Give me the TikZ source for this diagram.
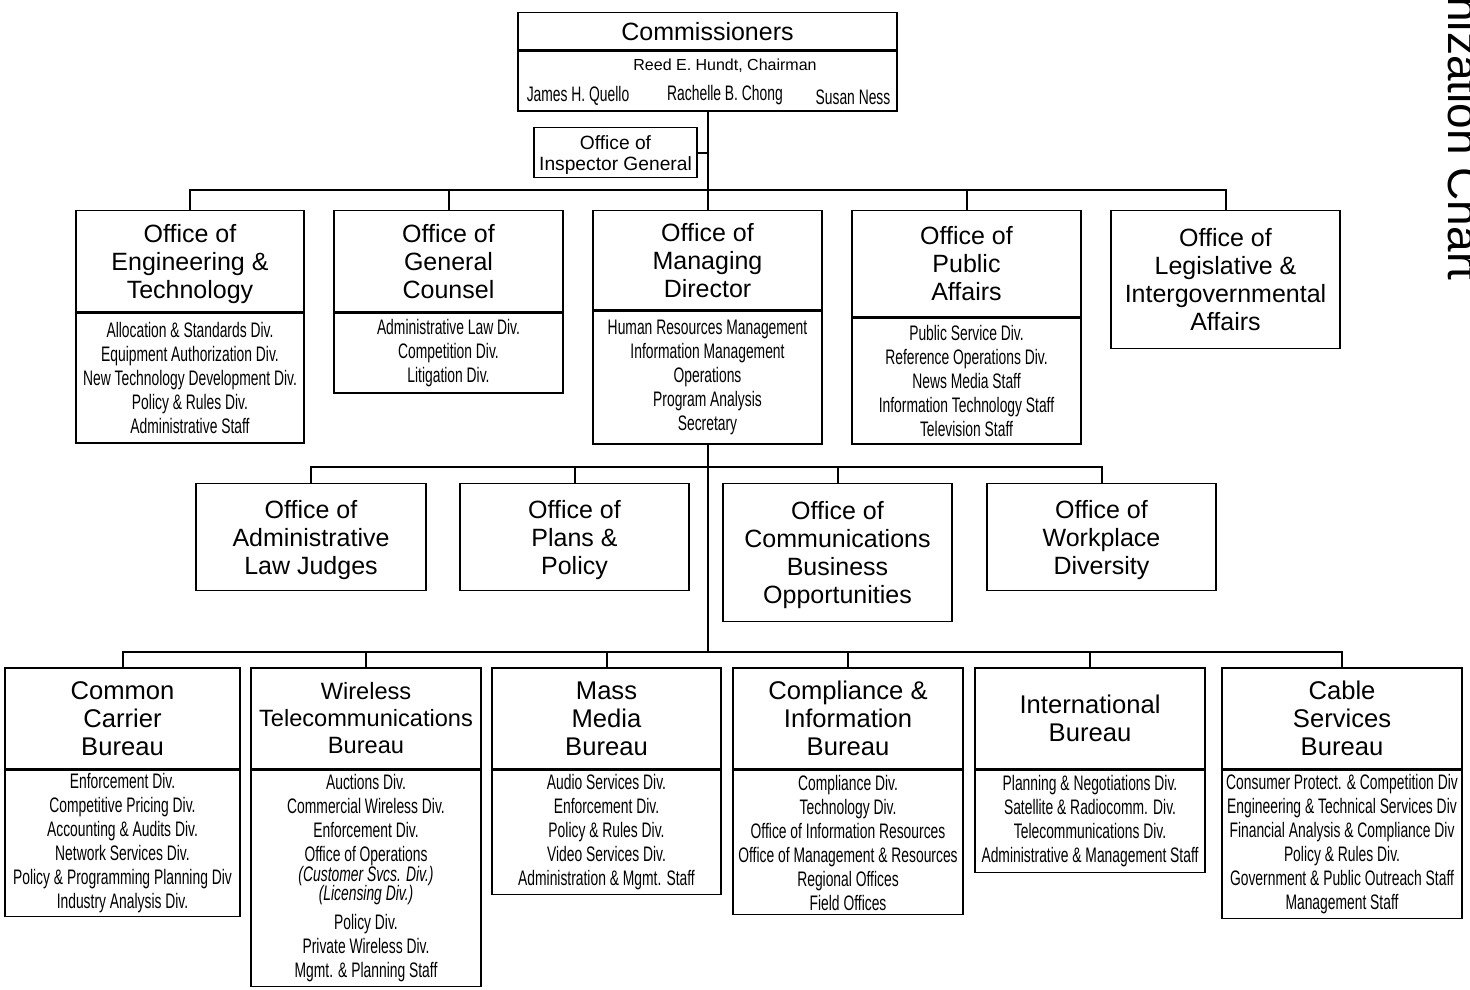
\documentclass[tikz,border=0pt]{standalone}
\usepackage{fontspec}
\setmainfont{Liberation Sans}
\newfontfamily\narrowfont[FakeStretch=0.66]{Liberation Sans}
\usetikzlibrary{positioning}
\newcommand{\officefont}{\fontsize{12.5}{14}\selectfont}
\newcommand{\bureaufont}{\fontsize{12.8}{14}\selectfont}
\newcommand{\unitfont}{\narrowfont\fontsize{10.5}{12}\selectfont}

\begin{document}
\begin{tikzpicture}[
    x=0.5pt, y=-0.5pt,
    office/.style={draw, line width=0.7pt, anchor=north, align=center, inner sep=0pt, text depth=0pt, font=\officefont},
    bureau/.style={office, line width=0.9pt, font=\bureaufont, minimum height=50.5pt},
    units/.style={draw, line width=0.7pt, anchor=north, align=center, inner sep=0pt, font=\unitfont},
    bus/.style={line width=1pt}
]
    \useasboundingbox (0,0) rectangle (1470,989);

    % commissioners
    \node[office, minimum width=189.5pt, minimum height=18.5pt] (com) at (707.5,12) {Commissioners};
    \node[units, minimum width=189.5pt, minimum height=30pt, below=0pt of com] (com-names) {};
    \node[inner sep=0pt, font=\fontsize{8}{10}\selectfont] (chair) at (725,66) {Reed E. Hundt, Chairman};
    \node[inner sep=0pt, font=\unitfont] (quello) at (578,96) {James H. Quello};
    \node[inner sep=0pt, font=\unitfont] (chong) at (725,95) {Rachelle B. Chong};
    \node[inner sep=0pt, font=\unitfont] (ness) at (853,97) {Susan Ness};

    \node[office, font=\fontsize{9.6}{10.5}\selectfont, minimum width=81.5pt, minimum height=25pt] (oig) at (615.5,127) {Office of\\Inspector General};

    % first row of offices
    \node[office, minimum width=114pt, minimum height=50.5pt] (oet) at (190,210) {Office of\\Engineering \&\\Technology};
    \node[units, minimum width=114pt, minimum height=65pt, below=0pt of oet] (oet-div) {Allocation \& Standards Div.\\Equipment Authorization Div.\\New Technology Development Div.\\Policy \& Rules Div.\\Administrative Staff};

    \node[office, minimum width=114.5pt, minimum height=50.5pt] (ogc) at (448.5,210) {Office of\\General\\Counsel};
    \node[units, minimum width=114.5pt, minimum height=40pt, below=0pt of ogc] (ogc-div) {Administrative Law Div.\\Competition Div.\\Litigation Div.};

    \node[office, minimum width=114.5pt, minimum height=49.5pt] (omd) at (707.5,210) {Office of\\Managing\\Director};
    \node[units, minimum width=114.5pt, minimum height=66.5pt, below=0pt of omd] (omd-div) {Human Resources Management\\Information Management\\Operations\\Program Analysis\\Secretary};

    \node[office, minimum width=114.5pt, minimum height=53pt] (opa) at (966.5,210) {Office of\\Public\\Affairs};
    \node[units, minimum width=114.5pt, minimum height=63pt, below=0pt of opa] (opa-div) {Public Service Div.\\Reference Operations Div.\\News Media Staff\\Information Technology Staff\\Television Staff};

    \node[office, minimum width=114.5pt, minimum height=69pt] (olia) at (1225.5,210) {Office of\\Legislative \&\\Intergovernmental\\Affairs};

    % second row of offices
    \node[office, minimum width=115pt, minimum height=53.5pt] (oalj) at (311,483) {Office of\\Administrative\\Law Judges};
    \node[office, minimum width=114.5pt, minimum height=53.5pt] (opp) at (574.5,483) {Office of\\Plans \&\\Policy};
    \node[office, minimum width=114.5pt, minimum height=69pt] (ocbo) at (837.5,483) {Office of\\Communications\\Business\\Opportunities};
    \node[office, minimum width=114.5pt, minimum height=53.5pt] (owd) at (1101.5,483) {Office of\\Workplace\\Diversity};

    % bureaus
    \node[bureau, minimum width=117.5pt] (ccb) at (122.5,667) {Common\\Carrier\\Bureau};
    \node[units, minimum width=117.5pt, minimum height=73pt, below=0pt of ccb] (ccb-div) {Enforcement Div.\\Competitive Pricing Div.\\Accounting \& Audits Div.\\Network Services Div.\\Policy \& Programming Planning Div\\Industry Analysis Div.};

    \node[bureau, font=\fontsize{11.8}{13.5}\selectfont, minimum width=115pt] (wtb) at (366,667) {Wireless\\Telecommunications\\Bureau};
    \node[units, minimum width=115pt, minimum height=108pt, below=0pt of wtb] (wtb-div) {Auctions Div.\\Commercial Wireless Div.\\Enforcement Div.\\Office of Operations\\[-2pt]\textit{(Customer Svcs. Div.)}\\[-2.5pt]\textit{(Licensing Div.)}\\[2.5pt]Policy Div.\\Private Wireless Div.\\Mgmt. \& Planning Staff};

    \node[bureau, minimum width=114.5pt] (mmb) at (606.5,667) {Mass\\Media\\Bureau};
    \node[units, minimum width=114.5pt, minimum height=62pt, below=0pt of mmb] (mmb-div) {Audio Services Div.\\Enforcement Div.\\Policy \& Rules Div.\\Video Services Div.\\Administration \& Mgmt. Staff};

    \node[bureau, minimum width=115pt] (cib) at (848,667) {Compliance \&\\Information\\Bureau};
    \node[units, minimum width=115pt, minimum height=72pt, below=0pt of cib] (cib-div) {Compliance Div.\\Technology Div.\\Office of Information Resources\\Office of Management \& Resources\\Regional Offices\\Field Offices};

    \node[bureau, minimum width=115pt] (ib) at (1090,667) {International\\Bureau};
    \node[units, minimum width=115pt, minimum height=51pt, below=0pt of ib] (ib-div) {Planning \& Negotiations Div.\\Satellite \& Radiocomm. Div.\\Telecommunications Div.\\Administrative \& Management Staff};

    \node[bureau, minimum width=120pt] (csb) at (1342,667) {Cable\\Services\\Bureau};
    \node[units, minimum width=120pt, minimum height=74pt, below=0pt of csb] (csb-div) {Consumer Protect. \& Competition Div\\Engineering \& Technical Services Div\\Financial Analysis \& Compliance Div\\Policy \& Rules Div.\\Government \& Public Outreach Staff\\Management Staff};

    % connectors
    \coordinate (bus1) at (0,190);
    \coordinate (bus2) at (0,467);
    \coordinate (bus3) at (0,652);
    \draw[bus] (com-names.south) -- (omd.north);
    \draw[bus] (oig.east) -- (oig.east -| com-names.south);
    \draw[bus] (oet.north) -- (oet.north |- bus1) -- (olia.north |- bus1) -- (olia.north);
    \foreach \n in {ogc,opa}
        \draw[bus] (\n.north) -- (\n.north |- bus1);
    \draw[bus] (omd-div.south) -- (omd-div.south |- bus3);
    \draw[bus] (oalj.north) -- (oalj.north |- bus2) -- (owd.north |- bus2) -- (owd.north);
    \foreach \n in {opp,ocbo}
        \draw[bus] (\n.north) -- (\n.north |- bus2);
    \draw[bus] (ccb.north) -- (ccb.north |- bus3) -- (csb.north |- bus3) -- (csb.north);
    \foreach \n in {wtb,mmb,cib,ib}
        \draw[bus] (\n.north) -- (\n.north |- bus3);

    % chart title, cut at the page edge
    \begin{scope}
        \clip (0,0) rectangle (1470,989);
        \node[rotate=-90, anchor=base west, inner sep=0pt, font=\fontsize{23}{27}\selectfont] (title) at (1448,-4) {nization Chart};
    \end{scope}
\end{tikzpicture}
\end{document}
